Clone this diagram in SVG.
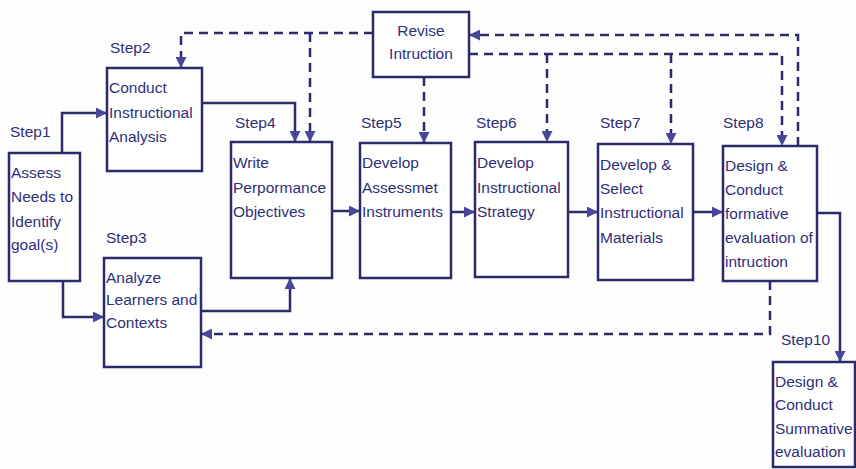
<svg xmlns="http://www.w3.org/2000/svg" width="856" height="469" viewBox="0 0 856 469">
<defs>
<style>
.box{fill:#ffffff;stroke:#2b2b6b;stroke-width:2.5}
.t{font-family:"Liberation Sans",Arial,sans-serif;font-size:15.5px;fill:#2f2f78}
.c{fill:none;stroke:#2b2b6b;stroke-width:2.5}
.d{fill:none;stroke:#2b2b6b;stroke-width:2.5;stroke-dasharray:9 6}
</style>
<marker id="ah" viewBox="0 0 10 10" refX="10" refY="5" markerWidth="11" markerHeight="11" markerUnits="userSpaceOnUse" orient="auto">
<path d="M0,0 L10,5 L0,10 z" fill="#4a4699"/>
</marker>
</defs>
<rect width="856" height="469" fill="#fdfdfd"/>

<g id="connectors">
<path class="c" d="M62,153 V113 H107" marker-end="url(#ah)"/>
<path class="c" d="M63,281 V317 H104" marker-end="url(#ah)"/>
<path class="c" d="M202,103 H295 V142" marker-end="url(#ah)"/>
<path class="c" d="M201,311 H290 V278" marker-end="url(#ah)"/>
<path class="c" d="M332,211 H360" marker-end="url(#ah)"/>
<path class="c" d="M451,212 H475" marker-end="url(#ah)"/>
<path class="c" d="M566,212 H598" marker-end="url(#ah)"/>
<path class="c" d="M693,212 H723" marker-end="url(#ah)"/>
<path class="c" d="M817,213 H840 V362" marker-end="url(#ah)"/>
<path class="d" d="M373,33 H181 V68" marker-end="url(#ah)"/>
<path class="d" d="M310,33 V142" marker-end="url(#ah)"/>
<path class="d" d="M424,77 V143" marker-end="url(#ah)"/>
<path class="d" d="M469,54 H782 V146" marker-end="url(#ah)"/>
<path class="d" d="M547,54 V142" marker-end="url(#ah)"/>
<path class="d" d="M671,54 V144" marker-end="url(#ah)"/>
<path class="d" d="M798,146 V35 H469" marker-end="url(#ah)"/>
<path class="d" d="M770,281 V334 H201" marker-end="url(#ah)"/>
</g>

<g id="revise">
<rect class="box" x="373" y="12" width="96" height="65"/>
<text class="t" x="421" y="36" text-anchor="middle">Revise</text>
<text class="t" x="421" y="59" text-anchor="middle">Intruction</text>
</g>

<g id="step1">
<text class="t" x="10" y="137">Step1</text>
<rect class="box" x="9" y="153" width="71" height="128"/>
<text class="t" x="11" y="178">Assess</text>
<text class="t" x="11" y="202">Needs to</text>
<text class="t" x="11" y="227">Identify</text>
<text class="t" x="11" y="250">goal(s)</text>
</g>

<g id="step2">
<text class="t" x="110" y="53">Step2</text>
<rect class="box" x="107" y="68" width="95" height="103"/>
<text class="t" x="109" y="93">Conduct</text>
<text class="t" x="109" y="118">Instructional</text>
<text class="t" x="109" y="142">Analysis</text>
</g>

<g id="step3">
<text class="t" x="106" y="243">Step3</text>
<rect class="box" x="104" y="258" width="97" height="109"/>
<text class="t" x="106" y="283">Analyze</text>
<text class="t" x="106" y="305">Learners and</text>
<text class="t" x="106" y="328">Contexts</text>
</g>

<g id="step4">
<text class="t" x="235" y="128">Step4</text>
<rect class="box" x="231" y="142" width="101" height="136"/>
<text class="t" x="233" y="168">Write</text>
<text class="t" x="233" y="193">Perpormance</text>
<text class="t" x="233" y="217">Objectives</text>
</g>

<g id="step5">
<text class="t" x="361" y="128">Step5</text>
<rect class="box" x="360" y="143" width="91" height="135"/>
<text class="t" x="362" y="168">Develop</text>
<text class="t" x="362" y="193">Assessmet</text>
<text class="t" x="362" y="217">Instruments</text>
</g>

<g id="step6">
<text class="t" x="476" y="128">Step6</text>
<rect class="box" x="475" y="142" width="93" height="135"/>
<text class="t" x="477" y="168">Develop</text>
<text class="t" x="477" y="193">Instructional</text>
<text class="t" x="477" y="217">Strategy</text>
</g>

<g id="step7">
<text class="t" x="600" y="128">Step7</text>
<rect class="box" x="598" y="144" width="95" height="136"/>
<text class="t" x="600" y="170">Develop &amp;</text>
<text class="t" x="600" y="194">Select</text>
<text class="t" x="600" y="218">Instructional</text>
<text class="t" x="600" y="243">Materials</text>
</g>

<g id="step8">
<text class="t" x="723" y="128">Step8</text>
<rect class="box" x="723" y="146" width="94" height="135"/>
<text class="t" x="725" y="171">Design &amp;</text>
<text class="t" x="725" y="195">Conduct</text>
<text class="t" x="725" y="219">formative</text>
<text class="t" x="725" y="243">evaluation of</text>
<text class="t" x="725" y="267">intruction</text>
</g>

<g id="step10">
<text class="t" x="781" y="345">Step10</text>
<rect class="box" x="773" y="362" width="82" height="105"/>
<text class="t" x="775" y="387">Design &amp;</text>
<text class="t" x="775" y="410">Conduct</text>
<text class="t" x="775" y="434">Summative</text>
<text class="t" x="775" y="457">evaluation</text>
</g>
</svg>
